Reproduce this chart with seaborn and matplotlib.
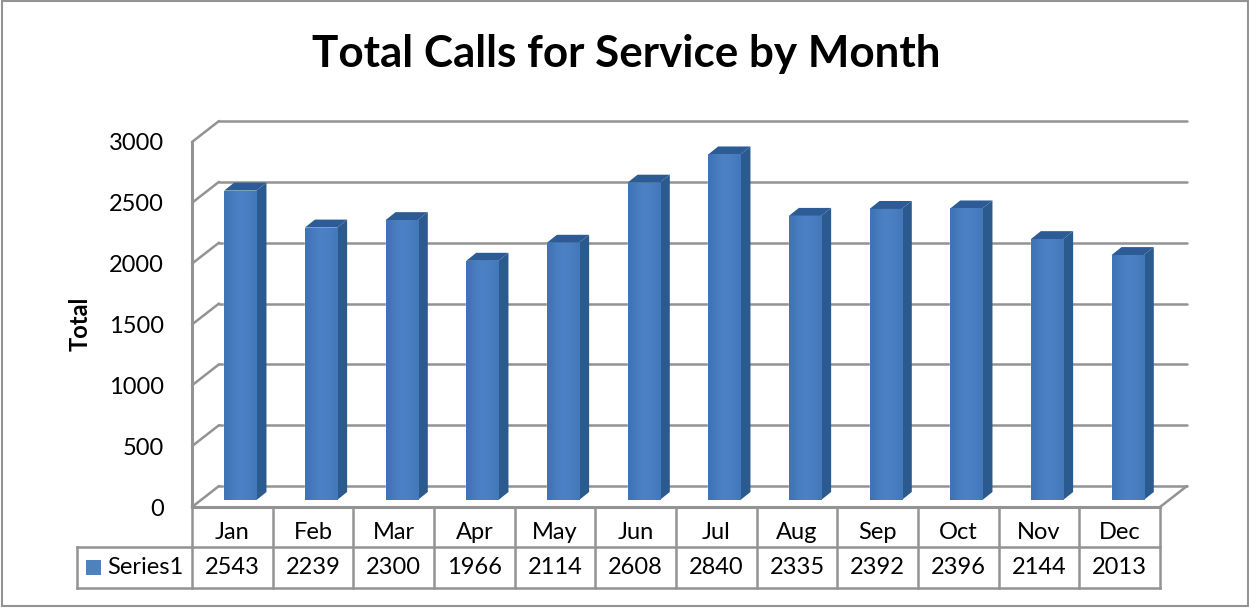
import numpy as np
import pandas as pd
import matplotlib
matplotlib.use("Agg")
import matplotlib.pyplot as plt
from matplotlib.patches import Polygon, Rectangle
import seaborn as sns

months = ["Jan", "Feb", "Mar", "Apr", "May", "Jun", "Jul", "Aug", "Sep", "Oct", "Nov", "Dec"]
totals = [2543, 2239, 2300, 1966, 2114, 2608, 2840, 2335, 2392, 2396, 2144, 2013]
y_ticks = [0, 500, 1000, 1500, 2000, 2500, 3000]
series_name = "Series1"
title = "Total Calls for Service by Month"
y_label = "Total"

W, H = 1249, 608
GRAY = "#939393"
LW = 1.8
FS = 17

sns.set_style("white")
plt.rcParams["font.family"] = ["Lato", "DejaVu Sans"]
plt.rcParams["text.color"] = "black"

fig = plt.figure(figsize=(W / 100, H / 100), dpi=100)
# 正面平面的像素范围
left, right, top, bottom = 192, 1160, 142, 507
ax = fig.add_axes([left / W, 1 - bottom / H, (right - left) / W, (bottom - top) / H])

df = pd.DataFrame({"month": months, "total": totals})
sns.barplot(data=df, x="month", y="total", color="#4a7ebb", saturation=1, width=0.4, ax=ax, zorder=3)
ax.set_xlim(-0.5, 11.5)
ax.set_ylim(0, 3000)

# 像素长度换算成数据长度
ux = 12 / (right - left)
uy = 3000 / (bottom - top)


def px(x):
    return (x - left) * ux - 0.5


def py(y):
    return (bottom - y) * uy


def seg(x0, y0, x1, y1, zorder=1):
    ax.plot([px(x0), px(x1)], [py(y0), py(y1)], color=GRAY, lw=LW, clip_on=False,
            zorder=zorder, solid_capstyle="projecting")


# 背景墙网格线和左侧斜线
wall_dx, wall_dy = 27, 21
for t in y_ticks:
    ax.plot([-0.5 + wall_dx * ux, 11.5 + wall_dx * ux], [t + wall_dy * uy] * 2, color=GRAY, lw=LW, clip_on=False, zorder=1)
    ax.plot([-0.5, -0.5 + wall_dx * ux], [t, t + wall_dy * uy], color=GRAY, lw=LW, clip_on=False, zorder=1)
ax.plot([11.5, 11.5 + wall_dx * ux], [0, wall_dy * uy], color=GRAY, lw=LW, clip_on=False, zorder=1)

# 柱子挪到中间平面，加上侧面、顶面和渐变
bar_dx, bar_dy = 8 * ux, 7 * uy
depth_x, depth_y = 10 * ux, 8 * uy
grad = np.array([[0.0, 0.6, 1.0, 1.0, 0.8, 0.4]])
cmap = matplotlib.colors.LinearSegmentedColormap.from_list("front", ["#3f74b6", "#4b81c4"])
for bar in list(ax.patches):
    bar.set_x(bar.get_x() + bar_dx)
    bar.set_y(bar_dy)
    bar.set_clip_on(False)
    x0, x1 = bar.get_x(), bar.get_x() + bar.get_width()
    y0, y1 = bar_dy, bar_dy + bar.get_height()
    ax.add_patch(Polygon([(x1, y0), (x1 + depth_x, y0 + depth_y), (x1 + depth_x, y1 + depth_y), (x1, y1)],
                         facecolor="#2b5a8e", edgecolor="none", clip_on=False, zorder=3))
    ax.add_patch(Polygon([(x0, y1), (x0 + depth_x, y1 + depth_y), (x1 + depth_x, y1 + depth_y), (x1, y1)],
                         facecolor="#2c5b95", edgecolor="none", clip_on=False, zorder=3))
    im = ax.imshow(grad, extent=(x0, x1, y0, y1), aspect="auto", cmap=cmap, zorder=3.5, interpolation="bilinear")
    im.set_clip_path(bar)
ax.set_xlim(-0.5, 11.5)
ax.set_ylim(0, 3000)

# 坐标轴
ax.set_yticks(y_ticks)
ax.set_xticks(range(12))
ax.set_xticklabels(months)
ax.tick_params(axis="y", length=0, pad=20, labelsize=FS, colors="black")
ax.tick_params(axis="x", length=0, pad=11, labelsize=FS, colors="black")
ax.set_xlabel("")
ax.set_ylabel("")
for name in ["top", "right"]:
    ax.spines[name].set_visible(False)
for name in ["left", "bottom"]:
    ax.spines[name].set_color(GRAY)
    ax.spines[name].set_linewidth(LW + 0.4)
ax.patch.set_alpha(0)

# 底部数据表
row1, row2 = 547, 588
key_left = 77
seg(key_left, row1, right, row1, 2)
seg(key_left, row2, right, row2, 2)
seg(key_left, row1, key_left, row2, 2)
for i in range(13):
    x = left + i * (right - left) / 12
    seg(x, bottom, x, row2, 2)
for i, v in enumerate(totals):
    ax.text(i, py((row1 + row2) / 2), str(v), ha="center", va="center", fontsize=FS, clip_on=False)
ax.add_patch(Rectangle((px(86), py(575)), 15 * ux, 15 * uy, facecolor="#4f81bd", edgecolor="none", clip_on=False))
ax.text(px(107), py(567), series_name, ha="left", va="center", fontsize=FS, clip_on=False)

# 标题、轴标题、外框
fig.text(626 / W, 1 - 54 / H, title, ha="center", va="center", fontsize=31.7, fontweight="bold")
fig.text(80 / W, 1 - 324 / H, y_label, ha="center", va="center", rotation=90, fontsize=17, fontweight="bold")
fig.add_artist(Rectangle((2 / W, 2 / H), (W - 3) / W, (H - 3) / H, transform=fig.transFigure,
                         facecolor="none", edgecolor=GRAY, lw=1.5))

fig.savefig("out.png", dpi=100)
